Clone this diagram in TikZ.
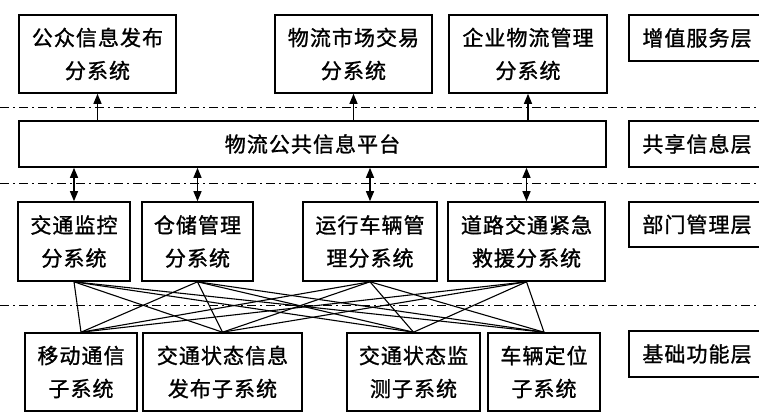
\documentclass[tikz,border=0pt]{standalone}
\usepackage{fontspec}
\newfontfamily\cjk[FakeBold=1.2,LetterSpace=5]{Noto Sans CJK SC}
\usetikzlibrary{arrows.meta}
\tikzset{
  box/.style={draw, line width=1.6pt, inner sep=0pt, align=center,
    font=\cjk\fontsize{21}{33}\selectfont},
  layer/.style={box, minimum width=136pt, minimum height=46pt},
  sep/.style={line width=1pt, dash pattern=on 9pt off 4pt on 2pt off 4pt},
  uparr/.style={line width=1.3pt, -{Triangle[length=10pt,width=8pt]}},
  dblarr/.style={line width=1.3pt, {Triangle[length=10pt,width=8pt]}-{Triangle[length=10pt,width=8pt]}},
  mesh/.style={line width=1.1pt}
}
\begin{document}
\begin{tikzpicture}[x=1pt,y=-1pt]
\clip (0,0) rectangle (759,416);
\fill[white] (0,0) rectangle (759,416);
% top row
\node[box, minimum width=157pt, minimum height=78pt] (A) at (97.5,54) {公众信息发布\\分系统};
\node[box, minimum width=157pt, minimum height=78pt] (B) at (353.5,54) {物流市场交易\\分系统};
\node[box, minimum width=158pt, minimum height=78pt] (C) at (528,54) {企业物流管理\\分系统};
\node[layer] (L1) at (697,38) {增值服务层};
% platform
\node[box, minimum width=587pt, minimum height=46pt] (P) at (312.5,144) {物流公共信息平台};
\node[layer] (L2) at (697,144) {共享信息层};
% department row
\node[box, minimum width=112pt, minimum height=79pt] (D1) at (74,241.5) {交通监控\\分系统};
\node[box, minimum width=111pt, minimum height=79pt] (D2) at (197.5,241.5) {仓储管理\\分系统};
\node[box, minimum width=134pt, minimum height=79pt] (D3) at (370,241.5) {运行车辆管\\理分系统};
\node[box, minimum width=157pt, minimum height=79pt] (D4) at (526.5,241.5) {道路交通紧急\\救援分系统};
\node[layer, minimum height=45pt] (L3) at (697,224.5) {部门管理层};
% bottom row
\node[box, minimum width=112pt, minimum height=78pt] (E1) at (81,372) {移动通信\\子系统};
\node[box, minimum width=159pt, minimum height=78pt] (E2) at (222.5,372) {交通状态信息\\发布子系统};
\node[box, minimum width=133pt, minimum height=78pt] (E3) at (413.5,372) {交通状态监\\测子系统};
\node[box, minimum width=112pt, minimum height=78pt] (E4) at (544,372) {车辆定位\\子系统};
\node[layer] (L4) at (697,354) {基础功能层};
% separators
\draw[sep] (0,107) -- (759,107);
\draw[sep] (0,183) -- (759,183);
\draw[sep] (0,305) -- (759,305);
% arrows
\foreach \t in {A,B,C} \draw[uparr] (P.north -| \t) -- (\t.south);
\foreach \t in {D1,D2,D3,D4} \draw[dblarr] (P.south -| \t) -- (\t.north);
% mesh
\foreach \d in {D1,D2,D3,D4}
  \foreach \e in {E1,E2,E3,E4}
    \draw[mesh] (\d.south) -- (\e.north);
\end{tikzpicture}
\end{document}
